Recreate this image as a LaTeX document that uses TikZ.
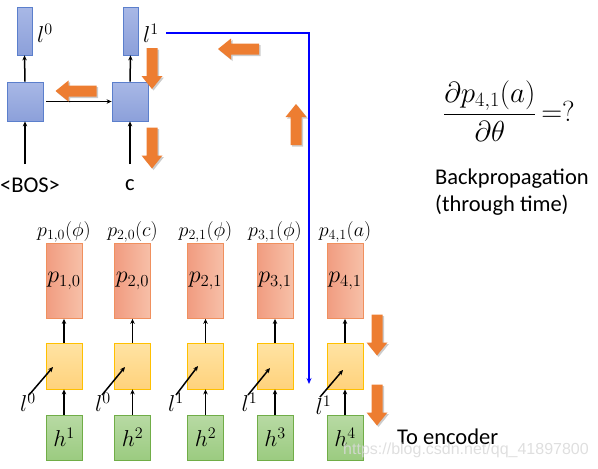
\RequirePackage{fix-cm}
\documentclass[tikz,border=0pt]{standalone}
\usepackage{amsmath}
\usepackage{fontspec}
\setmainfont{Carlito}
\usetikzlibrary{arrows.meta}
\definecolor{blueF1}{HTML}{A8B8E6}
\definecolor{blueF2}{HTML}{8CA0DA}
\definecolor{blueD}{HTML}{5B7FCC}
\definecolor{redF1}{HTML}{F19C80}
\definecolor{redF2}{HTML}{F7C0A8}
\definecolor{redD}{HTML}{F0905E}
\definecolor{yelF1}{HTML}{FFE3A3}
\definecolor{yelF2}{HTML}{FFD27C}
\definecolor{yelD}{HTML}{FFC000}
\definecolor{grnF1}{HTML}{B8DAA4}
\definecolor{grnF2}{HTML}{9BCB80}
\definecolor{grnD}{HTML}{70AD47}
\definecolor{orangeA}{HTML}{ED7D31}
\tikzset{
  bluebox/.style={draw=blueD, line width=0.8pt, top color=blueF1, bottom color=blueF2, minimum width=36pt, minimum height=39pt, inner sep=0pt},
  bluebar/.style={bluebox, minimum width=15pt, minimum height=48pt},
  redbox/.style={draw=redD, line width=0.8pt, left color=redF1, right color=redF2, minimum width=36pt, minimum height=75pt, inner sep=0pt, font=\fontsize{24}{28}\selectfont},
  yelbox/.style={draw=yelD, line width=0.8pt, top color=yelF1, bottom color=yelF2, minimum width=36pt, minimum height=46pt, inner sep=0pt},
  grnbox/.style={draw=grnD, line width=0.8pt, top color=grnF1, bottom color=grnF2, minimum width=36pt, minimum height=45pt, inner sep=0pt, font=\fontsize{23}{26}\selectfont},
  conn/.style={-{Stealth[length=5pt,width=4.5pt]}, line width=1.5pt, black},
  lab/.style={font=\fontsize{23}{26}\selectfont, inner sep=0pt},
  toplab/.style={font=\fontsize{20}{23}\selectfont, inner sep=0pt},
  txt/.style={font=\fontsize{22.5}{27}\selectfont, inner sep=0pt},
  oshape/.style={fill=orangeA},
  oshadow/.style={fill=black, opacity=0.2},
}
\newcommand\orangearrow[3]{%
  \begin{scope}[shift={(#1+1.5,#2+1.5)},rotate=#3]
    \path[oshadow] (-20.5,-5.5) -- (7.5,-5.5) -- (7.5,-10.5) -- (20.5,0) -- (7.5,10.5) -- (7.5,5.5) -- (-20.5,5.5) -- cycle;
  \end{scope}
  \begin{scope}[shift={(#1,#2)},rotate=#3]
    \path[oshape] (-20.5,-5.5) -- (7.5,-5.5) -- (7.5,-10.5) -- (20.5,0) -- (7.5,10.5) -- (7.5,5.5) -- (-20.5,5.5) -- cycle;
  \end{scope}}
\begin{document}
\begin{tikzpicture}[x=1pt,y=-1pt]
\useasboundingbox (0,0) rectangle (598,469);
% ---------- top decoder ----------
\node[bluebar] (l0bar) at (24.5,31) {};
\node[bluebar] (l1bar) at (130.5,31) {};
\node[bluebox] (enc1) at (25,101.5) {};
\node[bluebox] (enc2) at (130,101.5) {};
\node[lab] (l0lab) at (45,33) {$l^0$};
\node[lab] (l1lab) at (151,33) {$l^1$};
\node[txt] (bos) at (30,185) {<BOS>};
\node[txt] (cin) at (130,185) {c};
\coordinate (in0) at (25,164);
\coordinate (in1) at (130,164);
\draw[conn] (enc1.north) -- (l0bar.south);
\draw[conn] (enc2.north) -- (l1bar.south);
\draw[conn] (in0) -- (enc1.south);
\draw[conn] (in1) -- (enc2.south);
\draw[conn] (enc1.east) ++(3,0) -- (enc2.west);
% blue path
\coordinate (bstart) at (166,33);
\coordinate (bcorner) at (309,33);
\coordinate (bend) at (309,384);
\draw[blue, line width=1.5pt, -{Stealth[length=6pt,width=5pt]}] (bstart) -- (bcorner) -- (bend);
% orange arrows top
\orangearrow{76}{91}{180}
\orangearrow{152}{68.5}{270}
\orangearrow{152}{148}{270}
\orangearrow{238.5}{49}{180}
\orangearrow{296}{124.5}{90}
% ---------- bottom columns ----------
\foreach \i/\cx/\topl/\inl/\ax/\ay/\bx/\by in {
  1/64/{p_{1,0}(\phi)}/{p_{1,0}}/29/395/53/367,
  2/132.5/{p_{2,0}(c)}/{p_{2,0}}/102/395/125/367,
  3/205.5/{p_{2,1}(\phi)}/{p_{2,1}}/176/395/198/366,
  4/275/{p_{3,1}(\phi)}/{p_{3,1}}/248/395/270/368,
  5/345/{p_{4,1}(a)}/{p_{4,1}}/320/397/343/370}{
  \node[redbox] (r\i) at (\cx,281) {$\inl$};
  \node[yelbox] (y\i) at (\cx,366) {};
  \node[toplab] (t\i) at (\cx,232) {$\topl$};
  \draw[conn] (y\i.north) -- (r\i.south);
  \coordinate (ds\i) at (\ax,\ay);
  \coordinate (de\i) at (\bx,\by);
  \draw[conn] (ds\i) -- (de\i);
}
\node[lab] (ll1) at (28,402) {$l^0$};
\node[lab] (ll2) at (103,402) {$l^0$};
\node[lab] (ll3) at (176,402) {$l^1$};
\node[lab] (ll4) at (249.5,402) {$l^1$};
\node[lab] (ll5) at (323.5,405) {$l^1$};
\node[grnbox] (g1) at (64,437.5) {$h^1$};
\node[grnbox] (g2) at (132.5,437.5) {$h^2$};
\node[grnbox] (g3) at (205.5,437.5) {$h^2$};
\node[grnbox] (g4) at (275,437.5) {$h^3$};
\node[grnbox] (g5) at (345,437.5) {$h^4$};
\foreach \i in {1,...,5}{\draw[conn] (g\i.north) -- (y\i.south);}
\orangearrow{377}{335}{270}
\orangearrow{377}{405}{270}
\node[txt, anchor=west] (toenc) at (397,437) {To encoder};
% ---------- right text ----------
\node[inner sep=0pt, font=\fontsize{29}{34}\selectfont] (formula) at (509,111) {$\dfrac{\partial p_{4,1}(a)}{\partial\theta}\,{=}?$};
\node[txt, anchor=north west, align=left] (bp) at (435,169) {Backpropagation\\(through time)};
\node[font=\fontsize{16}{18}\selectfont\fontspec{Liberation Sans}, text=gray!30, opacity=0.85, inner sep=0pt] (wm) at (466,450) {https://blog.csdn.net/qq\_41897800};
\end{tikzpicture}
\end{document}
